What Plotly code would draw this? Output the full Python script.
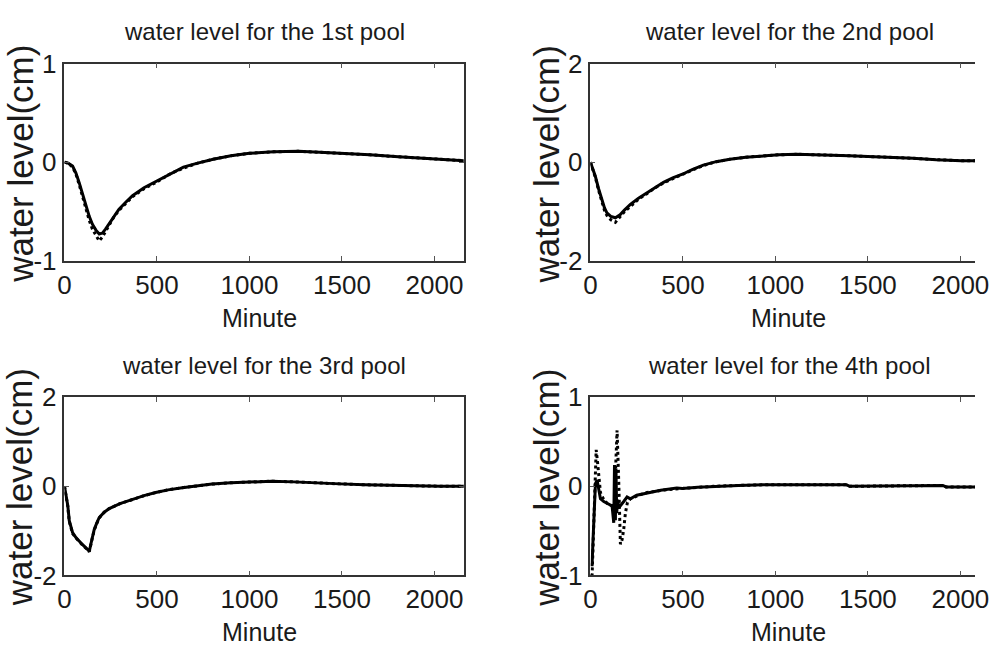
import plotly.graph_objects as go

# ---- pool 1 (solid = measured, dotted = model) ----
t1 = [0, 20, 44, 62, 80, 98, 116, 134, 151, 170, 188, 205, 222, 240, 266, 294, 330, 368, 430, 500, 570, 643, 720, 804, 900, 1000, 1130, 1265, 1380, 1500, 1650, 1805, 1980, 2160]
lvl1_solid = [0, -0.01, -0.04, -0.11, -0.21, -0.33, -0.45, -0.55, -0.63, -0.69, -0.73, -0.72, -0.68, -0.63, -0.55, -0.48, -0.41, -0.34, -0.26, -0.19, -0.12, -0.05, -0.01, 0.03, 0.065, 0.09, 0.105, 0.11, 0.10, 0.09, 0.075, 0.055, 0.035, 0.015]
lvl1_dot = [0, -0.01, -0.05, -0.12, -0.23, -0.35, -0.48, -0.59, -0.68, -0.75, -0.80, -0.76, -0.70, -0.65, -0.56, -0.49, -0.42, -0.35, -0.27, -0.20, -0.12, -0.06, -0.01, 0.03, 0.065, 0.09, 0.105, 0.11, 0.10, 0.09, 0.075, 0.055, 0.035, 0.015]

# ---- pool 2 ----
t2 = [0, 13, 26, 44, 62, 76, 89, 110, 135, 160, 185, 216, 260, 305, 350, 395, 445, 497, 550, 610, 680, 754, 840, 934, 1020, 1114, 1200, 1294, 1400, 1500, 1620, 1743, 1870, 2004, 2160]
lvl2_solid = [0, -0.12, -0.28, -0.54, -0.79, -0.93, -1.03, -1.10, -1.13, -1.07, -0.97, -0.86, -0.73, -0.62, -0.51, -0.41, -0.32, -0.245, -0.15, -0.06, 0.01, 0.06, 0.10, 0.13, 0.15, 0.16, 0.155, 0.145, 0.13, 0.115, 0.10, 0.08, 0.05, 0.03, 0.03]
lvl2_dot = [0, -0.13, -0.30, -0.57, -0.82, -0.98, -1.08, -1.17, -1.22, -1.12, -1.00, -0.90, -0.75, -0.64, -0.52, -0.42, -0.33, -0.25, -0.16, -0.07, 0.01, 0.06, 0.10, 0.13, 0.15, 0.16, 0.155, 0.145, 0.13, 0.115, 0.10, 0.08, 0.05, 0.03, 0.03]

# ---- pool 3 ----
t3 = [0, 9, 18, 26, 35, 44, 62, 80, 98, 116, 134, 148, 161, 175, 188, 215, 242, 300, 368, 430, 493, 560, 637, 720, 798, 900, 995, 1121, 1240, 1354, 1490, 1623, 1760, 1892, 2030, 2160]
lvl3_solid = [0, -0.20, -0.43, -0.77, -0.93, -1.04, -1.15, -1.24, -1.31, -1.38, -1.46, -1.20, -0.97, -0.82, -0.70, -0.58, -0.50, -0.39, -0.29, -0.21, -0.14, -0.08, -0.03, 0.01, 0.05, 0.08, 0.10, 0.115, 0.10, 0.075, 0.055, 0.035, 0.02, 0.007, 0.002, 0]
lvl3_dot = [0, -0.22, -0.45, -0.79, -0.95, -1.06, -1.16, -1.25, -1.32, -1.39, -1.47, -1.21, -0.98, -0.83, -0.71, -0.58, -0.50, -0.39, -0.29, -0.21, -0.14, -0.08, -0.03, 0.01, 0.05, 0.08, 0.10, 0.115, 0.10, 0.075, 0.055, 0.035, 0.02, 0.007, 0.002, 0]

# ---- pool 4 ----
t4_solid = [0, 9, 13, 20, 27, 36, 45, 54, 72, 90, 117, 126, 130, 135, 138, 142, 147, 153, 166, 180, 198, 216, 250, 288, 306, 380, 467, 497, 580, 665, 800, 934, 1150, 1384, 1402, 1650, 1905, 1923, 2160]
lvl4_solid = [-0.88, -0.88, -0.65, -0.30, 0.03, 0.07, -0.05, -0.14, -0.17, -0.19, -0.22, -0.41, 0.24, -0.38, 0.20, -0.30, -0.15, -0.24, -0.20, -0.17, -0.12, -0.14, -0.10, -0.085, -0.07, -0.045, -0.02, -0.024, -0.01, 0, 0.01, 0.017, 0.017, 0.017, 0, 0.005, 0.01, -0.007, -0.007]
t4_dot = [0, 9, 13, 18, 23, 27, 31, 38, 45, 54, 72, 90, 117, 122, 128, 136, 144, 153, 162, 171, 180, 189, 200, 216, 260, 306, 400, 497, 580, 665, 800, 934, 1150, 1384, 1402, 1650, 1905, 1923, 2160]
lvl4_dot = [-1.0, -0.99, -0.75, -0.41, -0.05, 0.30, 0.41, 0.28, 0.14, -0.07, -0.15, -0.19, -0.22, -0.26, -0.30, 0.20, 0.63, 0.05, -0.65, -0.60, -0.48, -0.30, -0.18, -0.14, -0.10, -0.07, -0.04, -0.024, -0.01, 0, 0.01, 0.017, 0.017, 0.017, 0, 0.005, 0.01, -0.007, -0.007]

titles = ["water level for the 1st pool", "water level for the 2nd pool",
          "water level for the 3rd pool", "water level for the 4th pool"]
x_label = "Minute"
y_label = "water level(cm)"
x_ticks = [0, 500, 1000, 1500, 2000]
y_ticks_small = [-1, 0, 1]
y_ticks_large = [-2, 0, 2]

W, H = 989, 662
FONT = "Liberation Sans, Arial, sans-serif"
INK = "#1a1a1a"

# panel boxes in pixels: (left, right, top, bottom)
boxes = [(58.7, 466.6, 51, 257.3), (596.1, 989, 51, 257.3),
         (58.7, 466.6, 400.4, 587), (596.1, 989, 400.4, 587)]
xranges = [[0, 2158], [0, 2079], [0, 2158], [0, 2079]]
yticks = [y_ticks_small, y_ticks_large, y_ticks_large, y_ticks_small]
# text anchor positions in pixels
title_cx = [262.7, 799.3, 262.7, 799.3]
title_cy = [17, 17, 367, 367]
xlab_cx = [258, 798.8, 258, 798.8]
xlab_cy = [317.3, 317.3, 646, 646]
ylab_cx = [13, 551, 13, 551]
ylab_cy = [156.2, 156.2, 495, 495]

series = [
    (t1, lvl1_solid, t1, lvl1_dot),
    (t2, lvl2_solid, t2, lvl2_dot),
    (t3, lvl3_solid, t3, lvl3_dot),
    (t4_solid, lvl4_solid, t4_dot, lvl4_dot),
]

fig = go.Figure()
layout = dict(width=W, height=H, margin=dict(l=0, r=0, t=0, b=0),
              paper_bgcolor="white", plot_bgcolor="white", showlegend=False)
annotations = []


def px_x(v):
    return v / W


def px_y(v):
    return (H - v) / H


for i, (box, xr, yt, (ts, ys, td, yd)) in enumerate(zip(boxes, xranges, yticks, series)):
    n = "" if i == 0 else str(i + 1)
    left, right, top, bottom = box
    right_col = i % 2 == 1
    layout["xaxis" + n] = dict(
        domain=[px_x(left), px_x(right)], range=xr, anchor="y" + n, tickvals=x_ticks,
        ticks="inside", ticklen=5, tickwidth=1, tickcolor="#555",
        showline=True, linecolor="#333", linewidth=1.5, mirror="ticks",
        showgrid=False, zeroline=False, ticklabeloverflow="allow",
        tickfont=dict(family=FONT, size=26, color=INK))
    layout["yaxis" + n] = dict(
        domain=[px_y(bottom), px_y(top)], range=[yt[0], yt[-1]],
        anchor="x" + n, tickvals=yt, ticktext=[str(v) for v in yt],
        ticks="inside", ticklen=5, tickwidth=1, tickcolor="#555",
        showline=True, linecolor="#333", linewidth=1.5,
        mirror=False if right_col else "ticks",
        showgrid=False, zeroline=False, ticklabelstandoff=1,
        ticklabeloverflow="allow",
        tickfont=dict(family=FONT, size=26, color=INK))
    fig.add_trace(go.Scatter(x=td, y=yd, mode="lines", xaxis="x" + n, yaxis="y" + n,
                             line=dict(color="black", width=3, dash="dot")))
    fig.add_trace(go.Scatter(x=ts, y=ys, mode="lines", xaxis="x" + n, yaxis="y" + n,
                             line=dict(color="black", width=3)))
    annotations.append(dict(text=titles[i], x=px_x(title_cx[i]), y=px_y(title_cy[i]),
                            xref="paper", yref="paper", xanchor="center", yanchor="middle",
                            showarrow=False, font=dict(family=FONT, size=24, color=INK)))
    annotations.append(dict(text=x_label, x=px_x(xlab_cx[i]), y=px_y(xlab_cy[i]),
                            xref="paper", yref="paper", xanchor="center", yanchor="middle",
                            showarrow=False, font=dict(family=FONT, size=25, color=INK)))
    annotations.append(dict(text=y_label, x=px_x(ylab_cx[i]), y=px_y(ylab_cy[i]),
                            xref="paper", yref="paper", xanchor="center", yanchor="middle",
                            textangle=-90, showarrow=False,
                            font=dict(family=FONT, size=35, color=INK)))

layout["annotations"] = annotations
fig.update_layout(**layout)
fig.write_html("out.html")
